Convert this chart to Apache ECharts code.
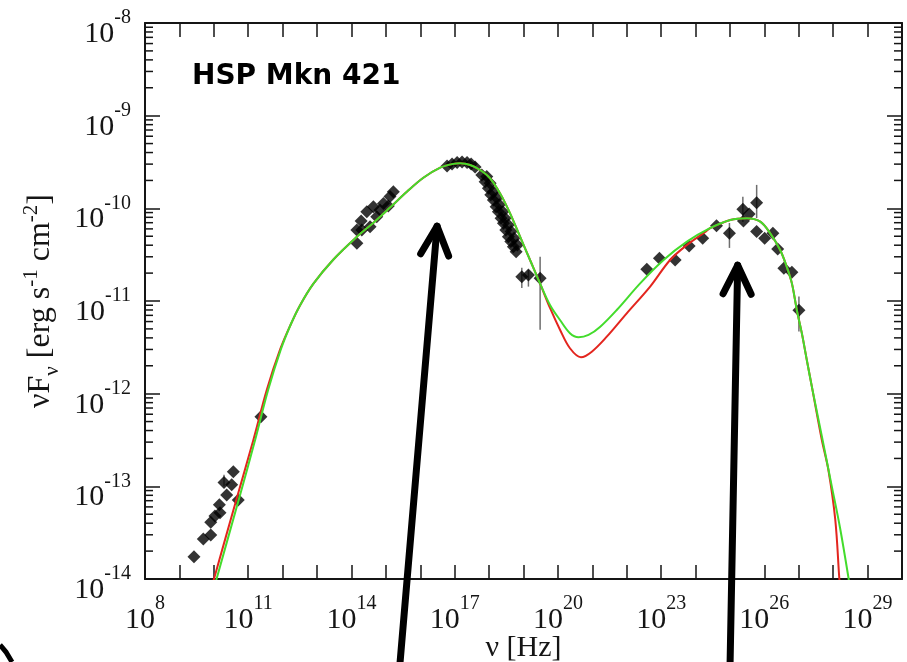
<!DOCTYPE html>
<html>
<head>
<meta charset="utf-8">
<title>HSP Mkn 421 SED</title>
<style>
  html, body { margin: 0; padding: 0; background: #fff; }
  #chart { width: 907px; height: 662px; }
</style>
<script src="https://cdn.jsdelivr.net/npm/echarts@6/dist/echarts.min.js"></script>
</head>
<body>
<div id="chart"></div>
<script>
// ---- Observed SED points: frequency [Hz] and nuF_nu [erg s^-1 cm^-2] ----
const radioNu = [2.65e9, 4.95e9, 8.13e9, 8.13e9, 1.08e10, 1.51e10, 1.45e10, 2.37e10, 1.98e10, 3.69e10, 3.31e10, 5.13e10, 2.34e11];
const radioF  = [1.74e-14, 2.70e-14, 2.99e-14, 4.09e-14, 4.79e-14, 5.19e-14, 6.31e-14, 8.07e-14, 1.10e-13, 1.44e-13, 1.04e-13, 7.13e-14, 5.62e-13];

const opticalNu = [1.44e14, 1.44e14, 1.91e14, 2.79e14, 3.47e14, 4.34e14, 5.43e14, 6.76e14, 8.51e14, 1.18e15, 1.32e15, 1.65e15, 2.00e14];
const opticalF  = [4.20e-11, 5.83e-11, 7.29e-11, 9.20e-11, 6.34e-11, 1.04e-10, 8.13e-11, 9.59e-11, 1.13e-10, 1.06e-10, 1.34e-10, 1.51e-10, 5.83e-11];

const xrayNu = [6.01e16, 8.39e16, 1.18e17, 1.64e17, 2.29e17, 3.00e17, 3.92e17,
                6.14e17, 7.66e17, 9.55e17, 1.12e18, 1.33e18, 1.60e18, 1.86e18, 2.23e18, 2.61e18, 3.06e18, 3.64e18, 4.28e18, 5.08e18, 6.10e18,
                8.57e17, 1.07e18, 1.33e18, 1.68e18, 1.99e18, 2.50e18, 2.92e18, 3.64e18, 4.37e18, 5.33e18, 6.65e18,
                8.93e18, 1.39e19, 3.04e19];
const xrayF  = [2.86e-10, 3.01e-10, 3.13e-10, 3.16e-10, 3.13e-10, 3.01e-10, 2.79e-10,
                2.29e-10, 1.94e-10, 1.65e-10, 1.40e-10, 1.23e-10, 1.04e-10, 9.20e-11, 7.82e-11, 6.90e-11, 5.85e-11, 4.95e-11, 4.38e-11, 3.86e-11, 3.41e-11,
                2.20e-10, 1.87e-10, 1.51e-10, 1.29e-10, 1.09e-10, 9.20e-11, 7.82e-11, 6.62e-11, 5.61e-11, 4.75e-11, 4.03e-11,
                1.83e-11, 1.91e-11, 1.76e-11];

const gammaNu = [3.84e22, 8.93e22, 2.55e23, 6.52e23, 1.61e24, 4.06e24, 9.66e24, 2.37e25, 3.61e25, 5.97e25, 2.47e25, 5.97e25, 1.02e26, 1.77e26, 2.44e26, 3.69e26, 6.30e26, 1.01e27];
const gammaF  = [2.20e-11, 2.90e-11, 2.77e-11, 3.93e-11, 4.75e-11, 6.49e-11, 5.38e-11, 9.77e-11, 8.71e-11, 1.15e-10, 7.31e-11, 5.61e-11, 4.75e-11, 5.38e-11, 3.65e-11, 2.26e-11, 2.04e-11, 7.96e-12];

// ---- Vertical error bars: frequency, lower and upper flux ----
const errNu = [1.98e10, 8.93e18, 1.39e19, 3.04e19, 9.66e24, 2.37e25, 5.97e25, 1.01e27];
const errLo = [1.00e-13, 1.38e-11, 1.43e-11, 4.88e-12, 3.74e-11, 7.13e-11, 7.87e-11, 4.68e-12];
const errHi = [1.33e-13, 2.28e-11, 2.17e-11, 3.01e-11, 6.95e-11, 1.33e-10, 1.79e-10, 1.12e-11];

// ---- SSC model curves ----
const greenNu = [8.71e9, 1.20e10, 5.25e10, 1.585e11, 3.80e11, 8.91e11, 1.78e12, 3.16e12, 7.76e12, 2.95e13,
                 1.41e14, 4.37e14, 1.32e15, 4.07e15, 1.23e16, 3.80e16, 9.12e16, 1.445e17, 2.82e17, 5.50e17,
                 1.07e18, 2.09e18, 4.07e18, 7.94e18, 1.55e19, 3.02e19, 5.89e19, 1.15e20, 2.24e20, 3.98e20,
                 7.76e20, 1.70e21, 5.13e21, 2.455e22, 1.175e23, 5.62e23, 2.63e24, 1.02e25, 3.09e25, 7.59e25,
                 1.48e26, 2.88e26, 4.47e26, 6.31e26, 8.81e26, 1.23e27, 1.72e27, 2.40e27, 4.68e27, 9.12e27,
                 1.585e28, 2.82e28, 3.55e28];
const greenF  = [6.31e-15, 1.0e-14, 7.08e-14, 3.16e-13, 1.10e-12, 3.02e-12, 5.75e-12, 8.91e-12, 1.53e-11, 2.79e-11,
                 4.90e-11, 7.00e-11, 1.02e-10, 1.51e-10, 2.14e-10, 2.75e-10, 3.02e-10, 3.06e-10, 2.94e-10, 2.59e-10,
                 2.11e-10, 1.45e-10, 8.83e-11, 4.94e-11, 2.77e-11, 1.55e-11, 9.06e-12, 6.24e-12, 4.49e-12, 4.06e-12,
                 4.30e-12, 5.28e-12, 8.00e-12, 1.55e-11, 2.77e-11, 4.37e-11, 6.10e-11, 7.48e-11, 7.82e-11, 7.18e-11,
                 5.37e-11, 3.55e-11, 2.34e-11, 1.55e-11, 7.94e-12, 4.47e-12, 2.29e-12, 1.19e-12, 3.47e-13, 1.0e-13,
                 3.55e-14, 1.0e-14, 5.62e-15];

const redNu = [7.24e9, 1.01e10, 4.47e10, 1.41e11, 3.47e11, 8.51e11, 1.78e12, 3.16e12, 7.76e12, 2.95e13,
               1.41e14, 4.37e14, 1.32e15, 4.07e15, 1.23e16, 3.80e16, 9.12e16, 1.445e17, 2.82e17, 5.50e17,
               1.07e18, 2.09e18, 4.07e18, 7.94e18, 1.55e19, 3.02e19, 5.89e19, 1.15e20, 2.24e20, 4.68e20,
               9.66e20, 2.63e21, 1.0e22, 4.79e22, 1.82e23, 5.62e23, 1.905e24, 2.63e24, 1.02e25, 3.09e25,
               7.59e25, 1.48e26, 2.88e26, 4.47e26, 6.31e26, 8.81e26, 1.23e27, 1.72e27, 2.40e27, 4.68e27,
               7.24e27, 1.15e28, 1.51e28, 1.74e28];
const redF  = [6.31e-15, 1.0e-14, 7.08e-14, 3.16e-13, 1.10e-12, 3.02e-12, 5.75e-12, 8.91e-12, 1.53e-11, 2.79e-11,
               4.90e-11, 7.00e-11, 1.02e-10, 1.51e-10, 2.14e-10, 2.75e-10, 3.02e-10, 3.06e-10, 2.94e-10, 2.59e-10,
               2.11e-10, 1.45e-10, 8.83e-11, 4.94e-11, 2.77e-11, 1.55e-11, 8.41e-12, 4.90e-12, 3.09e-12, 2.47e-12,
               2.84e-12, 4.12e-12, 7.36e-12, 1.43e-11, 2.77e-11, 4.02e-11, 5.56e-11, 6.10e-11, 7.48e-11, 7.82e-11,
               7.18e-11, 5.37e-11, 3.55e-11, 2.34e-11, 1.55e-11, 7.94e-12, 4.47e-12, 2.29e-12, 1.19e-12, 3.16e-13,
               1.51e-13, 4.37e-14, 1.0e-14, 5.01e-15];

// ---- Arrows marking the two SED humps (tip and tail, data space) ----
const arrowTipNu  = [3.08e16, 1.675e25];
const arrowTipF   = [6.41e-11, 2.43e-11];
const arrowTailNu = [2.59e15, 1.01e25];
const arrowTailF  = [1.27e-15, 1.27e-15];

// ---- Axis ranges and labelled decades ----
const X_MIN = 1e8, X_MAX = 1e30, Y_MIN = 1e-14, Y_MAX = 1e-8;
const xLabelExps = [8, 11, 14, 17, 20, 23, 26, 29];
const yLabelExps = [-14, -13, -12, -11, -10, -9, -8];

const SERIF = '"Liberation Serif", "Times New Roman", serif';
const INK = '#151515';

const zip = (a, b) => a.map((v, i) => [v, b[i]]);
const powerLabel = (v, exps) => {
  const e = Math.round(Math.log10(v));
  return exps.includes(e) ? '{b|10}{s|' + e + '}' : '';
};
const labelRich = {
  b: { fontFamily: SERIF, fontSize: 30, color: INK, lineHeight: 30, verticalAlign: 'bottom' },
  s: { fontFamily: SERIF, fontSize: 20, color: INK, lineHeight: 20, verticalAlign: 'bottom', padding: [0, 0, 21, 0] }
};

// log-spaced minor ticks (2..9 x 10^n) for both vertical frame edges
const minorTickValues = [];
for (let e = -14; e < -8; e++) {
  for (let m = 2; m <= 9; m++) minorTickValues.push(m * Math.pow(10, e));
}

const observed = [].concat(zip(radioNu, radioF), zip(opticalNu, opticalF), zip(xrayNu, xrayF), zip(gammaNu, gammaF));

const axisLine = { show: true, onZero: false, lineStyle: { color: INK, width: 2 } };

const chart = echarts.init(document.getElementById('chart'), null, { renderer: 'canvas' });
chart.setOption({
  backgroundColor: '#ffffff',
  animation: false,
  title: {
    text: 'HSP Mkn 421',
    left: 192, top: 63, padding: 0,
    textStyle: { fontFamily: '"DejaVu Sans", sans-serif', fontWeight: 'bold', fontSize: 28, color: '#000' }
  },
  grid: { left: 145, right: 5, top: 23, bottom: 83, containLabel: false, outerBoundsMode: 'none' },
  xAxis: [
    {
      type: 'log', logBase: 10, min: X_MIN, max: X_MAX, interval: 1, splitNumber: 22,
      position: 'bottom',
      axisLine: axisLine,
      axisTick: { show: true, inside: true, length: 14, lineStyle: { color: INK, width: 1.5 } },
      axisLabel: { margin: 26, formatter: v => powerLabel(v, xLabelExps), rich: labelRich },
      splitLine: { show: false },
      name: 'ν [Hz]', nameLocation: 'middle', nameGap: 54, nameMoveOverlap: false,
      nameTextStyle: { fontFamily: SERIF, fontSize: 30, color: INK }
    },
    {
      type: 'log', logBase: 10, min: X_MIN, max: X_MAX, interval: 1, splitNumber: 22,
      position: 'top',
      axisLine: axisLine,
      axisTick: { show: true, inside: true, length: 14, lineStyle: { color: INK, width: 1.5 } },
      axisLabel: { show: false },
      splitLine: { show: false }
    }
  ],
  yAxis: [
    {
      type: 'log', logBase: 10, min: Y_MIN, max: Y_MAX, interval: 1, splitNumber: 6,
      position: 'left',
      axisLine: axisLine,
      axisTick: { show: true, inside: true, length: 15, lineStyle: { color: INK, width: 1.5 } },
      axisLabel: { margin: 14, padding: [22, 0, 0, 0], formatter: v => powerLabel(v, yLabelExps), rich: labelRich },
      splitLine: { show: false },
      name: '{m|νF}{sb|ν}{m| [erg s}{sp|-1}{m| cm}{sp|-2}{m|]}',
      nameLocation: 'middle', nameRotate: 90, nameGap: 82, nameMoveOverlap: false,
      nameTextStyle: {
        fontFamily: SERIF, fontSize: 32, color: INK,
        rich: {
          m:  { fontFamily: SERIF, fontSize: 32, color: INK, lineHeight: 32, verticalAlign: 'bottom', padding: [0, 0, 6, 0] },
          sb: { fontFamily: SERIF, fontSize: 21, color: INK, lineHeight: 21, verticalAlign: 'bottom' },
          sp: { fontFamily: SERIF, fontSize: 21, color: INK, lineHeight: 21, verticalAlign: 'bottom', padding: [0, 0, 21, 0] }
        }
      }
    },
    {
      type: 'log', logBase: 10, min: Y_MIN, max: Y_MAX, interval: 1, splitNumber: 6,
      position: 'right',
      axisLine: axisLine,
      axisTick: { show: true, inside: true, length: 15, lineStyle: { color: INK, width: 1.5 } },
      axisLabel: { show: false },
      splitLine: { show: false }
    }
  ],
  graphic: [
    {
      type: 'polyline', silent: true, x: 0, y: 0,
      shape: { points: [[0, 645], [6, 652], [12, 662]] },
      style: { stroke: '#000', lineWidth: 5, fill: null }
    }
  ],
  series: [
    {
      name: 'minor ticks', type: 'custom', silent: true, z: 6, clip: false,
      data: minorTickValues.map(v => [X_MIN, v]),
      renderItem: (params, api) => {
        const y = api.coord([X_MIN, api.value(1)])[1];
        const cs = params.coordSys;
        const st = { stroke: INK, lineWidth: 1.5 };
        return {
          type: 'group',
          children: [
            { type: 'line', shape: { x1: cs.x, y1: y, x2: cs.x + 8, y2: y }, style: st },
            { type: 'line', shape: { x1: cs.x + cs.width - 8, y1: y, x2: cs.x + cs.width, y2: y }, style: st }
          ]
        };
      }
    },
    {
      name: 'error bars', type: 'custom', silent: true, z: 2,
      encode: { x: 0, y: [1, 2] },
      data: errNu.map((v, i) => [v, errLo[i], errHi[i]]),
      renderItem: (params, api) => {
        const p1 = api.coord([api.value(0), api.value(1)]);
        const p2 = api.coord([api.value(0), api.value(2)]);
        return { type: 'line', shape: { x1: p1[0], y1: p1[1], x2: p2[0], y2: p2[1] }, style: { stroke: '#6e6e6e', lineWidth: 1.5 } };
      }
    },
    {
      name: 'data', type: 'scatter', z: 3,
      symbol: 'diamond', symbolSize: 13,
      itemStyle: { color: '#000' },
      data: observed
    },
    {
      name: 'model (red)', type: 'line', z: 4,
      data: zip(redNu, redF),
      showSymbol: false, smooth: 0.35,
      lineStyle: { color: '#e3251e', width: 2, join: 'round' }
    },
    {
      name: 'model (green)', type: 'line', z: 5,
      data: zip(greenNu, greenF),
      showSymbol: false, smooth: 0.35,
      lineStyle: { color: '#43dc2c', width: 2, join: 'round' }
    },
    {
      name: 'arrows', type: 'custom', silent: true, z: 8, clip: false,
      encode: { x: [0, 2], y: [1, 3] },
      data: arrowTipNu.map((v, i) => [v, arrowTipF[i], arrowTailNu[i], arrowTailF[i]]),
      renderItem: (params, api) => {
        const tip = api.coord([api.value(0), api.value(1)]);
        const tail = api.coord([api.value(2), api.value(3)]);
        const dx = tail[0] - tip[0], dy = tail[1] - tip[1];
        const len = Math.hypot(dx, dy);
        const ux = dx / len, uy = dy / len;
        const L = 32, a = 26 * Math.PI / 180;
        const c = Math.cos(a), s = Math.sin(a);
        const w1 = [tip[0] + L * (ux * c - uy * s), tip[1] + L * (ux * s + uy * c)];
        const w2 = [tip[0] + L * (ux * c + uy * s), tip[1] + L * (-ux * s + uy * c)];
        const st = { stroke: '#000', lineWidth: 7, lineCap: 'round', lineJoin: 'round', fill: null };
        return {
          type: 'group',
          children: [
            { type: 'line', shape: { x1: tip[0], y1: tip[1], x2: tail[0], y2: tail[1] }, style: st },
            { type: 'polyline', shape: { points: [w1, tip, w2] }, style: st }
          ]
        };
      }
    }
  ]
});
</script>
</body>
</html>
